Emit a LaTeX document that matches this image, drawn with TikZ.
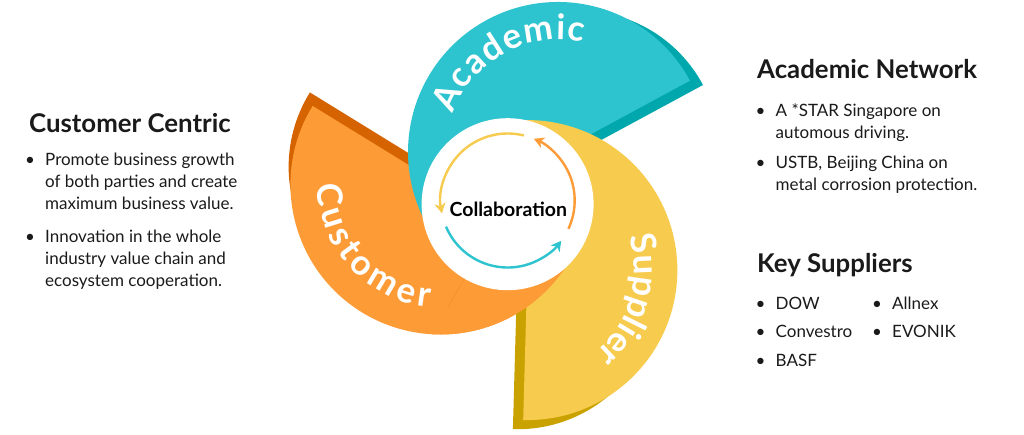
\documentclass[tikz,border=0pt]{standalone}
\usepackage{fontspec}
\setmainfont{Lato}
\usetikzlibrary{arrows.meta,decorations.text}

\definecolor{tealpetal}{HTML}{2EC4CF}
\definecolor{tealshade}{HTML}{00A8AD}
\definecolor{orangepetal}{HTML}{FD9B37}
\definecolor{orangeshade}{HTML}{D46300}
\definecolor{yellowpetal}{HTML}{F7CB4E}
\definecolor{yellowshade}{HTML}{C9A200}
\definecolor{inktext}{HTML}{1A1A1A}

\newcommand{\petal}[2]{%
  \fill[#2] (62.5,45.9) -- (194.4,117.2) arc[start angle=28.2, end angle=200, radius=141.5] -- cycle;
  \fill[#1] (49.4,50.2) -- ++(28.4:150) arc[start angle=28.4, end angle=215, radius=150] -- cycle;}
\newcommand{\petalfont}{\fontsize{35}{35}\selectfont\bfseries\color{white}}
\newcommand{\lines}[1]{\begin{tabular}[t]{@{}l@{}}#1\end{tabular}}
\newcommand{\bitem}[4]{%
  \node[bulletdot] (#1dot) at (#2-15,#3) {•};
  \node[itemtext] (#1) at (#2,#3) {#4};}

\tikzset{
  sidehead/.style={anchor=base west, inner sep=0pt, text=inktext, font=\fontsize{25.8}{30}\selectfont\bfseries},
  itemtext/.style={anchor=base west, inner sep=0pt, text=inktext, font=\fontsize{17}{21.7}\selectfont},
  bulletdot/.style={anchor=base, inner sep=0pt, text=inktext, font=\fontsize{17}{21.7}\selectfont},
  cycle arrow/.style={line width=2.4pt, -{Stealth[length=10pt, width=11pt, inset=3pt]}},
  petal label/.style={decorate, decoration={text along path, text align=fit to path, text={|\petalfont|#1}}},
}

\begin{document}
\begin{tikzpicture}[x=1pt,y=1pt]
\useasboundingbox (-508.6,-232.8) rectangle (515.4,202.2);

\begin{scope}[rotate=120] \petal{orangepetal}{orangeshade} \end{scope}
\petal{tealpetal}{tealshade}
\begin{scope}[rotate=240] \petal{yellowpetal}{yellowshade} \end{scope}
\begin{scope}[rotate=120]
  \clip (0,0) -- (120:320) arc[start angle=120, end angle=200, radius=320] -- cycle;
  \petal{orangepetal}{orangeshade}
\end{scope}

\path[petal label=Academic] (49.4,50.2) ++(160:112) arc[start angle=160, end angle=77, radius=112];
\path[petal label=Customer] (-68.2,17.7) ++(180:123) arc[start angle=180, end angle=265, radius=123];
\path[petal label=Supplier] (18.8,-67.9) ++(18:107) arc[start angle=18, end angle=-50, radius=107];

\fill[white] (-1,-2) circle[radius=86];
\draw[cycle arrow, yellowpetal] (-0.9,1.7) ++(76:67) arc[start angle=76, end angle=191, radius=67];
\draw[cycle arrow, tealpetal] (-0.9,1.7) ++(203:67) arc[start angle=203, end angle=323, radius=67];
\draw[cycle arrow, orangepetal] (-0.9,1.7) ++(335:67) arc[start angle=335, end angle=427, radius=67];
\node[font=\fontsize{19.5}{20}\selectfont\bfseries] (collab) at (-0.3,-6.8) {Collaboration};

\node[sidehead] (cchead) at (-479.6,69.2) {Customer Centric};
\bitem{cc1}{-463.6}{36.2}{\lines{Promote business growth\\of both parties and create\\maximum business value.}}
\bitem{cc2}{-463.6}{-40.8}{\lines{Innovation in the whole\\industry value chain and\\ecosystem cooperation.}}

\node[sidehead] (anhead) at (248.4,123.9) {Academic Network};
\bitem{an1}{266.9}{85.5}{\lines{A *STAR Singapore on\\automous driving.}}
\bitem{an2}{266.9}{33.2}{\lines{USTB, Beijing China on\\metal corrosion protection.}}

\node[sidehead] (kshead) at (248.4,-70.8) {Key Suppliers};
\bitem{ks1}{266.9}{-107.8}{DOW}
\bitem{ks2}{266.9}{-135.8}{Convestro}
\bitem{ks3}{266.9}{-164.8}{BASF}
\bitem{ks4}{383.4}{-107.8}{Allnex}
\bitem{ks5}{383.4}{-135.8}{EVONIK}
\end{tikzpicture}
\end{document}
